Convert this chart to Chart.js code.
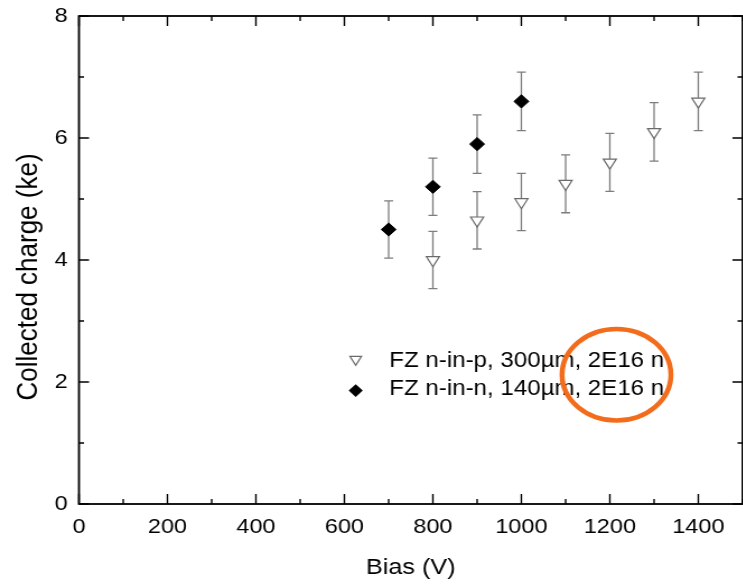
<!DOCTYPE html>
<html>
<head>
<meta charset="utf-8">
<script src="https://cdn.jsdelivr.net/npm/chart.js@4/dist/chart.umd.min.js"></script>
<style>
  html, body { margin: 0; padding: 0; background: #fff; overflow: hidden; }
  #plot { display: block; transform: scaleX(1.12); transform-origin: 0 0; }
</style>
</head>
<body>
<canvas id="plot" width="664" height="584" style="width:664px;height:584px"></canvas>
<script>
// Collected charge vs bias voltage for two FZ sensors irradiated to 2E16 n
const biasP   = [800, 900, 1000, 1100, 1200, 1300, 1400];
const chargeP = [4.00, 4.65, 4.95, 5.25, 5.60, 6.10, 6.60];
const errP    = [0.47, 0.47, 0.47, 0.475, 0.475, 0.48, 0.48];

const biasN   = [700, 800, 900, 1000];
const chargeN = [4.50, 5.20, 5.90, 6.60];
const errN    = [0.47, 0.47, 0.48, 0.48];

const seriesLabels = ['FZ n-in-p, 300µm, 2E16 n', 'FZ n-in-n, 140µm, 2E16 n'];
const xTitle = 'Bias (V)';
const yTitle = 'Collected charge (ke)';

// circled part of the legend (data coordinates)
const highlight = { x: 1215, y: 2.12, rx: 123, ry: 0.75 };

const FONT = '"Liberation Sans", Arial, Helvetica, sans-serif';

const toPoints = (xs, ys) => xs.map((x, i) => ({ x: x, y: ys[i] }));

// error bars behind the markers
const errorBars = {
  id: 'errorBars',
  beforeDatasetsDraw(chart) {
    const { ctx, scales: { x, y } } = chart;
    const errs = [errP, errN];
    ctx.save();
    ctx.strokeStyle = '#7d7d7d';
    ctx.lineWidth = 1.3;
    chart.data.datasets.forEach((ds, di) => {
      ds.data.forEach((p, i) => {
        const px = x.getPixelForValue(p.x);
        const top = y.getPixelForValue(p.y + errs[di][i]);
        const bot = y.getPixelForValue(p.y - errs[di][i]);
        ctx.beginPath();
        ctx.moveTo(px, top); ctx.lineTo(px, bot);
        ctx.moveTo(px - 4, top); ctx.lineTo(px + 4, top);
        ctx.moveTo(px - 4, bot); ctx.lineTo(px + 4, bot);
        ctx.stroke();
      });
    });
    ctx.restore();
  }
};

// box frame with inward major/minor ticks on all four sides
const frame = {
  id: 'frame',
  afterDatasetsDraw(chart) {
    const { ctx, chartArea: a, scales: { x, y } } = chart;
    ctx.save();
    ctx.strokeStyle = '#000';
    ctx.lineWidth = 1.4;
    ctx.beginPath();
    for (let v = 0; v <= 1500; v += 100) {
      const px = x.getPixelForValue(v);
      const len = v % 200 === 0 ? 10 : 5;
      ctx.moveTo(px, a.bottom); ctx.lineTo(px, a.bottom - len);
      ctx.moveTo(px, a.top); ctx.lineTo(px, a.top + len);
    }
    for (let v = 0; v <= 8; v += 1) {
      const py = y.getPixelForValue(v);
      const len = v % 2 === 0 ? 9 : 4.5;
      ctx.moveTo(a.left, py); ctx.lineTo(a.left + len, py);
      ctx.moveTo(a.right, py); ctx.lineTo(a.right - len, py);
    }
    ctx.stroke();
    ctx.lineWidth = 1.8;
    ctx.strokeRect(a.left, a.top, a.right - a.left, a.bottom - a.top);
    ctx.restore();
  }
};

// legend inside the plot, then the orange ring around the fluence
const legendAndRing = {
  id: 'legendAndRing',
  afterDraw(chart) {
    const { ctx, scales: { x, y } } = chart;
    ctx.save();
    // open down-pointing triangle
    const r1 = 6, cx = 317.6, cy1 = 359.3;
    ctx.beginPath();
    ctx.moveTo(cx - r1 * 0.866, cy1 - r1 / 2);
    ctx.lineTo(cx + r1 * 0.866, cy1 - r1 / 2);
    ctx.lineTo(cx, cy1 + r1);
    ctx.closePath();
    ctx.fillStyle = '#fff';
    ctx.fill();
    ctx.strokeStyle = '#6a6a6a';
    ctx.lineWidth = 1.2;
    ctx.stroke();
    // filled diamond
    const r2 = 6.3, cy2 = 390.6;
    ctx.beginPath();
    ctx.moveTo(cx, cy2 - r2);
    ctx.lineTo(cx + r2, cy2);
    ctx.lineTo(cx, cy2 + r2);
    ctx.lineTo(cx - r2, cy2);
    ctx.closePath();
    ctx.fillStyle = '#000';
    ctx.fill();

    ctx.font = '21.5px ' + FONT;
    ctx.fillStyle = '#000';
    ctx.textBaseline = 'middle';
    ctx.textAlign = 'left';
    ctx.fillText(seriesLabels[0], 347.6, 361);
    ctx.fillText(seriesLabels[1], 347.6, 389.5);

    const ex = x.getPixelForValue(highlight.x);
    const ey = y.getPixelForValue(highlight.y);
    const erx = Math.abs(x.getPixelForValue(highlight.x + highlight.rx) - ex);
    const ery = Math.abs(y.getPixelForValue(highlight.y + highlight.ry) - ey);
    ctx.beginPath();
    ctx.ellipse(ex, ey, erx, ery, 0, 0, Math.PI * 2);
    ctx.strokeStyle = '#f26c1c';
    ctx.lineWidth = 4.5;
    ctx.stroke();
    ctx.restore();
  }
};

new Chart(document.getElementById('plot'), {
  type: 'scatter',
  data: {
    datasets: [
      {
        label: seriesLabels[0],
        data: toPoints(biasP, chargeP),
        pointStyle: 'triangle',
        rotation: 180,
        radius: 6.7,
        hoverRadius: 6.7,
        backgroundColor: '#ffffff',
        borderColor: '#6a6a6a',
        borderWidth: 1.2,
        showLine: false
      },
      {
        label: seriesLabels[1],
        data: toPoints(biasN, chargeN),
        pointStyle: 'rectRot',
        radius: 6.6,
        hoverRadius: 6.6,
        backgroundColor: '#000000',
        borderColor: '#000000',
        borderWidth: 1,
        showLine: false
      }
    ]
  },
  options: {
    responsive: false,
    animation: false,
    devicePixelRatio: 1,
    layout: { autoPadding: false, padding: { top: 16, right: 1, left: 0, bottom: 0 } },
    plugins: { legend: { display: false }, tooltip: { enabled: false } },
    events: [],
    scales: {
      x: {
        type: 'linear',
        min: 0,
        max: 1500,
        grid: { display: false, drawTicks: false },
        border: { display: false },
        ticks: {
          stepSize: 200,
          includeBounds: false,
          autoSkip: false,
          maxRotation: 0,
          padding: 11,
          color: '#000',
          font: { family: FONT, size: 21 },
          callback: (v) => String(v)
        },
        title: {
          display: true,
          text: xTitle,
          color: '#000',
          font: { family: FONT, size: 22.5 },
          padding: { top: 0, bottom: 3 }
        },
        afterFit(scale) {
          scale.height = 80;
          scale.paddingLeft = 0;
          scale.paddingRight = 0;
        }
      },
      y: {
        type: 'linear',
        min: 0,
        max: 8,
        grid: { display: false, drawTicks: false },
        border: { display: false },
        ticks: {
          stepSize: 2,
          autoSkip: false,
          padding: 10,
          color: '#000',
          font: { family: FONT, size: 21 },
          callback: (v) => String(v)
        },
        title: {
          display: true,
          text: yTitle,
          color: '#000',
          font: { family: FONT, size: 26 },
          padding: { top: 10, bottom: 0 }
        },
        afterFit(scale) {
          scale.width = 70.5;
          scale.paddingTop = 0;
          scale.paddingBottom = 0;
          // the axis title sits a little below the middle of the axis
          if (!scale._titleShifted) {
            const drawTitle = scale.drawTitle;
            scale.drawTitle = function () {
              this.ctx.save();
              this.ctx.translate(0, 17);
              drawTitle.call(this);
              this.ctx.restore();
            };
            scale._titleShifted = true;
          }
        }
      }
    }
  },
  plugins: [errorBars, frame, legendAndRing]
});
</script>
</body>
</html>
